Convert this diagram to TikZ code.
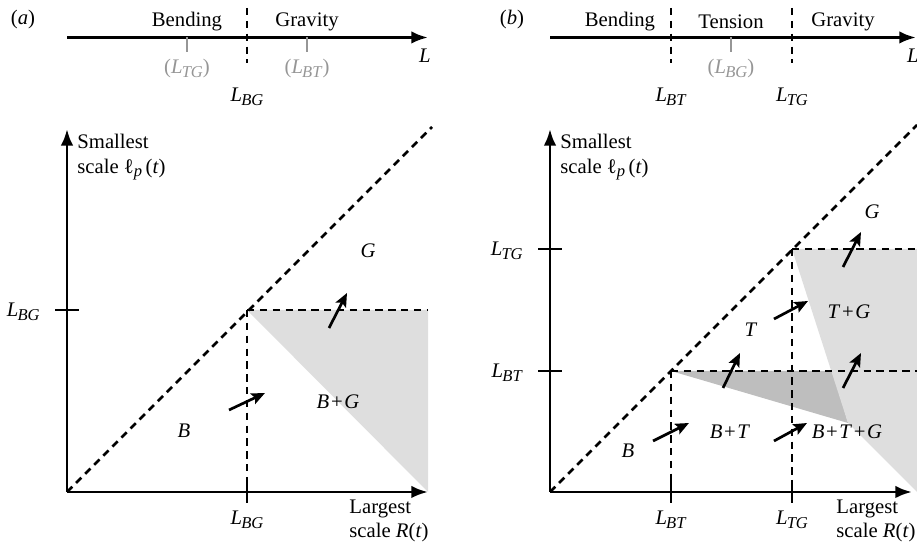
\documentclass[tikz,border=0pt]{standalone}
\usepackage{fontspec}
\setmainfont{Liberation Serif}
\usetikzlibrary{arrows.meta}
\definecolor{shadec}{RGB}{222,222,222}
\definecolor{darkshadec}{RGB}{190,190,190}
\definecolor{faintc}{RGB}{150,150,150}
\newcommand{\Lsc}[1]{\textit{L}\kern-0.4pt\raisebox{-1.7pt}{\footnotesize\textit{#1}}}
\newcommand{\pl}{\kern0.8pt+\kern0.8pt}
\tikzset{
  axis/.style     = {line width=1.4pt, -{Latex[length=8pt,width=6pt]}},
  bound/.style    = {line width=1.25pt, dash pattern=on 3.6pt off 2.6pt},
  tickmark/.style = {line width=1.4pt},
  faint/.style    = {line width=1.1pt, draw=faintc},
  drift/.style    = {line width=1.3pt, -{Stealth[length=6.5pt,width=5.5pt,inset=1.2pt]}},
  regime/.style   = {inner sep=1pt},
  lbl/.style      = {inner sep=0pt, align=left},
}

\begin{document}
\begin{tikzpicture}[x=0.483pt, y=-0.483pt]
\useasboundingbox (0,0) rectangle (917,546);

% ---------- (a) ----------
\node (tag-a) at (23,20) {(\textit{a})};
\coordinate (sa) at (67,37.5);
\coordinate (sa-end) at (428,37.5);
\draw[axis] (sa) -- (sa-end);
\node (L-a) at (425,56) {\textit{L}};
\node[regime] (bend-a) at (187,22) {Bending};
\node[regime] (grav-a) at (307,22) {Gravity};
\draw[bound] (247,8) -- (247,63);
\draw[faint] (187,37.5) -- (187,52);
\draw[faint] (307,37.5) -- (307,52);
\node[text=faintc] (ltg-a) at (187,69) {(\Lsc{TG})};
\node[text=faintc] (lbt-a) at (307,69) {(\Lsc{BT})};
\node (lbg-a) at (247,97) {\Lsc{BG}};

\coordinate (oa) at (67,492);
\coordinate (ya) at (67,129);
\coordinate (xa) at (428,492);
\coordinate (ka) at (247,310);
\coordinate (ra) at (428,310);
\coordinate (da) at (432,127);
\fill[shadec] (ka) -- (ra) -- (xa) -- cycle;
\draw[bound] (oa) -- (da);
\draw[bound] (ka) -- (ra);
\draw[bound] (ka) -- (ka |- oa);
\draw[axis] (oa) -- (ya);
\draw[axis] (oa) -- (xa);
\draw[tickmark] (55,310) -- (79,310);
\draw[tickmark] (247,480) -- (247,503);
\node[anchor=east] (ylbg-a) at (47,312) {\Lsc{BG}};
\node (xlbg-a) at (247,520) {\Lsc{BG}};
\node[lbl, anchor=west] (ylab-a) at (77,157) {Smallest\\scale ℓ\raisebox{-1.7pt}{\footnotesize\textit{p}}\,(\textit{t})};
\node[lbl, anchor=west] (xlab-a) at (349,521) {Largest\\scale \textit{R}(\textit{t})};

\coordinate (a1) at (229,410); \coordinate (a1e) at (265,393);
\coordinate (a2) at (329,328); \coordinate (a2e) at (347,293);
\draw[drift] (a1) -- (a1e);
\draw[drift] (a2) -- (a2e);
\node (G-a) at (368,251) {\textit{G}};
\node (BG-a) at (338,402) {\textit{B}\pl\textit{G}};
\node (B-a) at (184,431) {\textit{B}};

% ---------- (b) ----------
\node (tag-b) at (512,20) {(\textit{b})};
\coordinate (sb) at (550,37.5);
\coordinate (sb-end) at (916,37.5);
\draw[axis] (sb) -- (sb-end);
\node (L-b) at (913,56) {\textit{L}};
\node[regime] (bend-b) at (620,22) {Bending};
\node[regime] (tens-b) at (731,22) {Tension};
\node[regime] (grav-b) at (843,22) {Gravity};
\draw[bound] (671,8) -- (671,63);
\draw[bound] (792,8) -- (792,63);
\draw[faint] (731,37.5) -- (731,52);
\node[text=faintc] (lbg-b) at (731,69) {(\Lsc{BG})};
\node (lbt-b) at (671,97) {\Lsc{BT}};
\node (ltg-b) at (792,97) {\Lsc{TG}};

\coordinate (ob) at (550,492);
\coordinate (yb) at (550,129);
\coordinate (xb) at (912,492);
\coordinate (kb1) at (671,371);
\coordinate (kb2) at (792,249);
\coordinate (rb1) at (917,371);
\coordinate (rb2) at (917,249);
\coordinate (cb) at (833,371);
\coordinate (mb) at (848,423);
\coordinate (db) at (917,125);
\fill[darkshadec] (kb1) -- (cb) -- (mb) -- cycle;
\fill[shadec] (kb2) -- (rb2) -- (917,492) -- (mb) -- cycle;
\draw[bound] (ob) -- (db);
\draw[bound] (kb1) -- (rb1);
\draw[bound] (kb1) -- (kb1 |- ob);
\draw[bound] (kb2) -- (rb2);
\draw[bound] (kb2) -- (kb2 |- ob);
\draw[axis] (ob) -- (yb);
\draw[axis] (ob) -- (xb);
\draw[tickmark] (538,371) -- (562,371);
\draw[tickmark] (538,249) -- (562,249);
\draw[tickmark] (671,480) -- (671,503);
\draw[tickmark] (792,480) -- (792,503);
\node[anchor=east] (ylbt-b) at (530,373) {\Lsc{BT}};
\node[anchor=east] (yltg-b) at (530,251) {\Lsc{TG}};
\node (xlbt-b) at (671,520) {\Lsc{BT}};
\node (xltg-b) at (792,520) {\Lsc{TG}};
\node[lbl, anchor=west] (ylab-b) at (560,157) {Smallest\\scale ℓ\raisebox{-1.7pt}{\footnotesize\textit{p}}\,(\textit{t})};
\node[lbl, anchor=west] (xlab-b) at (836,521) {Largest\\scale \textit{R}(\textit{t})};

\coordinate (b1) at (653,441); \coordinate (b1e) at (689,423);
\coordinate (b2) at (774,441); \coordinate (b2e) at (807,423);
\coordinate (b3) at (774,319); \coordinate (b3e) at (808,301);
\coordinate (b4) at (723,388); \coordinate (b4e) at (740,353);
\coordinate (b5) at (843,388); \coordinate (b5e) at (861,353);
\coordinate (b6) at (843,267); \coordinate (b6e) at (861,232);
\foreach \s in {1,...,6}
  \draw[drift] (b\s) -- (b\s e);
\node (B-b) at (628,451) {\textit{B}};
\node (BT-b) at (730,432) {\textit{B}\pl\textit{T}};
\node (BTG-b) at (847,432) {\textit{B}\pl\textit{T}\pl\textit{G}};
\node (T-b) at (751,330) {\textit{T}};
\node (TG-b) at (849,312) {\textit{T}\pl\textit{G}};
\node (G-b) at (872,212) {\textit{G}};

\end{tikzpicture}
\end{document}
